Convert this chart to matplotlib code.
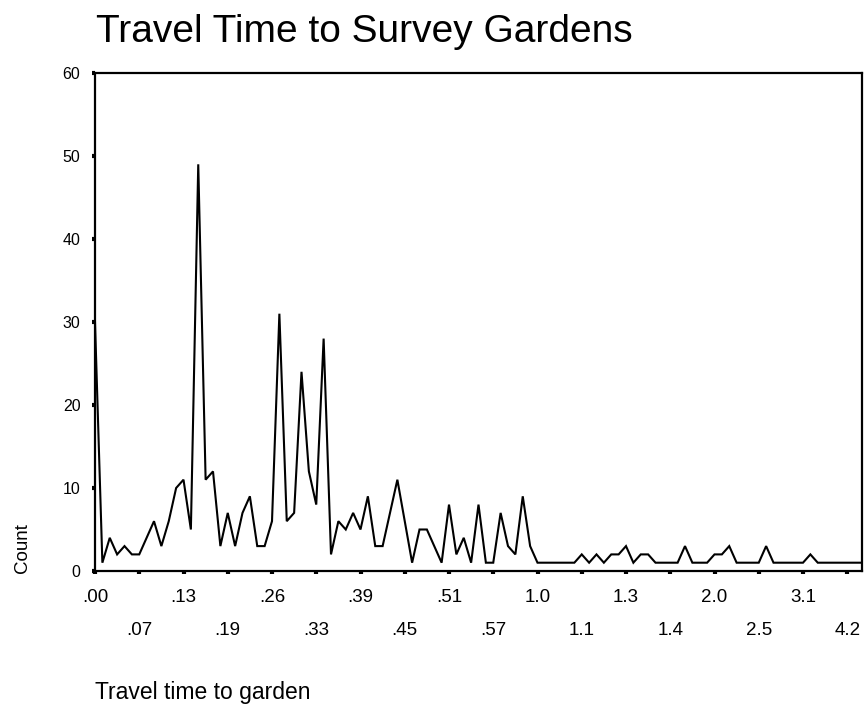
import matplotlib
matplotlib.use("Agg")
import matplotlib.pyplot as plt
import numpy as np

# Frequency of each travel-time category (hours), in category order
counts = [
    30, 1, 4, 2, 3, 2, 2, 4, 6, 3,
    6, 10, 11, 5, 49, 11, 12, 3, 7, 3,
    7, 9, 3, 3, 6, 31, 6, 7, 24, 12,
    8, 28, 2, 6, 5, 7, 5, 9, 3, 3,
    7, 11, 6, 1, 5, 5, 3, 1, 8, 2,
    4, 1, 8, 1, 1, 7, 3, 2, 9, 3,
    1, 1, 1, 1, 1, 1, 2, 1, 2, 1,
    2, 2, 3, 1, 2, 2, 1, 1, 1, 1,
    3, 1, 1, 1, 2, 2, 3, 1, 1, 1,
    1, 3, 1, 1, 1, 1, 1, 2, 1, 1,
    1, 1, 1, 1, 1,
]

# Every sixth category is labelled on the axis
tick_labels = [".00", ".07", ".13", ".19", ".26", ".33", ".39", ".45", ".51",
               ".57", "1.0", "1.1", "1.3", "1.4", "2.0", "2.5", "3.1", "4.2"]
label_step = 6
y_ticks = [0, 10, 20, 30, 40, 50, 60]

plt.rcParams['font.family'] = ['Liberation Sans', 'DejaVu Sans']

W, H = 867, 711
fig = plt.figure(figsize=(W / 100, H / 100), dpi=100)
ax = fig.add_axes([95 / W, 1 - 571 / H, 767 / W, 498 / H])

x = np.arange(len(counts))
ax.plot(x, counts, color='black', lw=1.5, solid_joinstyle='miter')

ax.set_xlim(0, len(counts) - 1)
ax.set_ylim(0, 60)
ax.set_yticks(y_ticks)

pos = np.arange(len(tick_labels)) * label_step
ax.set_xticks(pos[::2])
ax.set_xticklabels(tick_labels[::2])
ax.set_xticks(pos[1::2], minor=True)
ax.set_xticklabels(tick_labels[1::2], minor=True)

ax.tick_params(axis='x', which='both', direction='out', length=2.5, width=3,
               labelsize=13.5, color='black')
ax.tick_params(axis='x', which='major', pad=10.5)
ax.tick_params(axis='x', which='minor', pad=34.5)
ax.tick_params(axis='y', direction='out', length=2.5, width=3,
               labelsize=11.5, pad=8)

for s in ax.spines.values():
    s.set_linewidth(1.6)
    s.set_color('black')

fig.text(96 / W, 1 - 42 / H, "Travel Time to Survey Gardens", fontsize=28,
         ha='left', va='baseline')
fig.text(22 / W, 1 - 548 / H, "Count", fontsize=13.5, rotation=90,
         ha='center', va='center')
fig.text(95 / W, 1 - 692 / H, "Travel time to garden", fontsize=16.5,
         ha='left', va='center')

fig.savefig("out.png", dpi=100)
